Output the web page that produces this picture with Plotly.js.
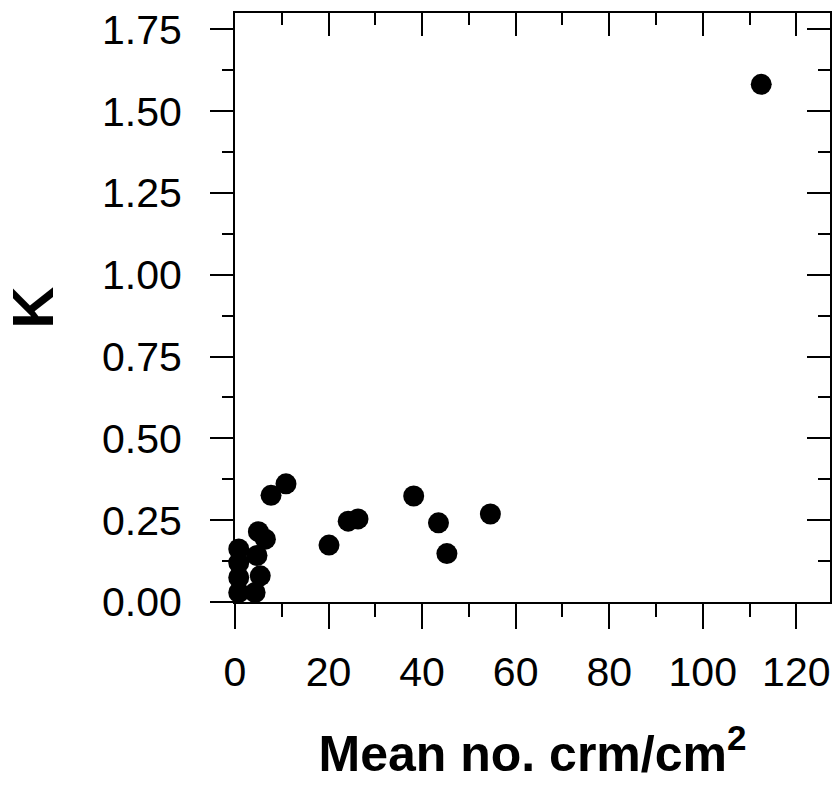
<!DOCTYPE html>
<html>
<head>
<meta charset="utf-8">
<script src="https://cdn.plot.ly/plotly-3.0.1.min.js"></script>
<style>html,body{margin:0;padding:0;background:#fff;}#chart{width:836px;height:790px;}</style>
</head>
<body>
<div id="chart"></div>
<script>
// Data
var meanCrm = [0.8, 0.8, 0.8, 0.8, 4.3, 5.4, 4.7, 5.0, 6.5, 7.7, 10.9, 20.1, 24.2, 26.3, 38.2, 43.5, 45.3, 54.6, 112.5];
var kValues = [0.162, 0.12, 0.075, 0.029, 0.029, 0.08, 0.142, 0.215, 0.192, 0.326, 0.361, 0.174, 0.247, 0.254, 0.324, 0.242, 0.148, 0.269, 1.582];
var xTicks = [0, 20, 40, 60, 80, 100, 120];
var yTicks = [0, 0.25, 0.5, 0.75, 1.0, 1.25, 1.5, 1.75];
var xTitle = 'Mean no. crm/cm<sup>2</sup>';
var yTitle = 'K';

var fam = 'Liberation Sans, Arial, Helvetica, sans-serif';
var traces = [
  {x: meanCrm, y: kValues, type: 'scatter', mode: 'markers', cliponaxis: false,
   marker: {color: '#000', size: 21, line: {width: 0}}, hoverinfo: 'x+y', showlegend: false},
  {x: [], y: [], xaxis: 'x2', yaxis: 'y2', type: 'scatter', mode: 'markers', showlegend: false, hoverinfo: 'skip'}
];
var xr = [0, 127.2], yr = [0, 1.80];
var layout = {
  width: 836, height: 790,
  margin: {l: 235, r: 6, t: 13, b: 188},
  paper_bgcolor: '#fff', plot_bgcolor: '#fff',
  font: {family: fam, color: '#000'},
  showlegend: false,
  xaxis: {
    range: xr, tickvals: xTicks, ticktext: xTicks.map(String),
    ticks: 'outside', ticklen: 25, tickwidth: 2, tickcolor: '#000',
    minor: {dtick: 10, tick0: 0, ticks: 'outside', ticklen: 13, tickwidth: 2, tickcolor: '#000', showgrid: false},
    showline: true, linewidth: 2, linecolor: '#000',
    showgrid: false, zeroline: false,
    tickfont: {family: fam, size: 41, color: '#000'},
    ticklabelstandoff: 8,
    title: {text: xTitle, standoff: 42, font: {family: fam, size: 50, weight: 'bold', color: '#000'}}
  },
  yaxis: {
    range: yr, tickvals: yTicks, ticktext: yTicks.map(function(v){return v.toFixed(2);}),
    ticks: 'outside', ticklen: 23, tickwidth: 2, tickcolor: '#000',
    minor: {dtick: 0.125, tick0: 0, ticks: 'outside', ticklen: 11, tickwidth: 2, tickcolor: '#000', showgrid: false},
    showline: true, linewidth: 2, linecolor: '#000',
    showgrid: false, zeroline: false,
    tickfont: {family: fam, size: 41, color: '#000'},
    ticklabelstandoff: 20,
    title: {text: yTitle, standoff: 40, font: {family: fam, size: 58, weight: 'bold', color: '#000'}}
  },
  xaxis2: {
    overlaying: 'x', side: 'top', anchor: 'y', range: xr, tickvals: xTicks,
    ticks: 'inside', ticklen: 23, tickwidth: 2, tickcolor: '#000',
    minor: {dtick: 10, tick0: 0, ticks: 'inside', ticklen: 12, tickwidth: 2, tickcolor: '#000', showgrid: false},
    showline: true, linewidth: 2, linecolor: '#000', showticklabels: false,
    showgrid: false, zeroline: false
  },
  yaxis2: {
    overlaying: 'y', side: 'right', anchor: 'x', range: yr, tickvals: yTicks,
    ticks: 'inside', ticklen: 23, tickwidth: 2, tickcolor: '#000',
    minor: {dtick: 0.125, tick0: 0, ticks: 'inside', ticklen: 12, tickwidth: 2, tickcolor: '#000', showgrid: false},
    showline: true, linewidth: 2, linecolor: '#000', showticklabels: false,
    showgrid: false, zeroline: false
  }
};
Plotly.newPlot('chart', traces, layout, {displayModeBar: false, staticPlot: true});
</script>
</body>
</html>
